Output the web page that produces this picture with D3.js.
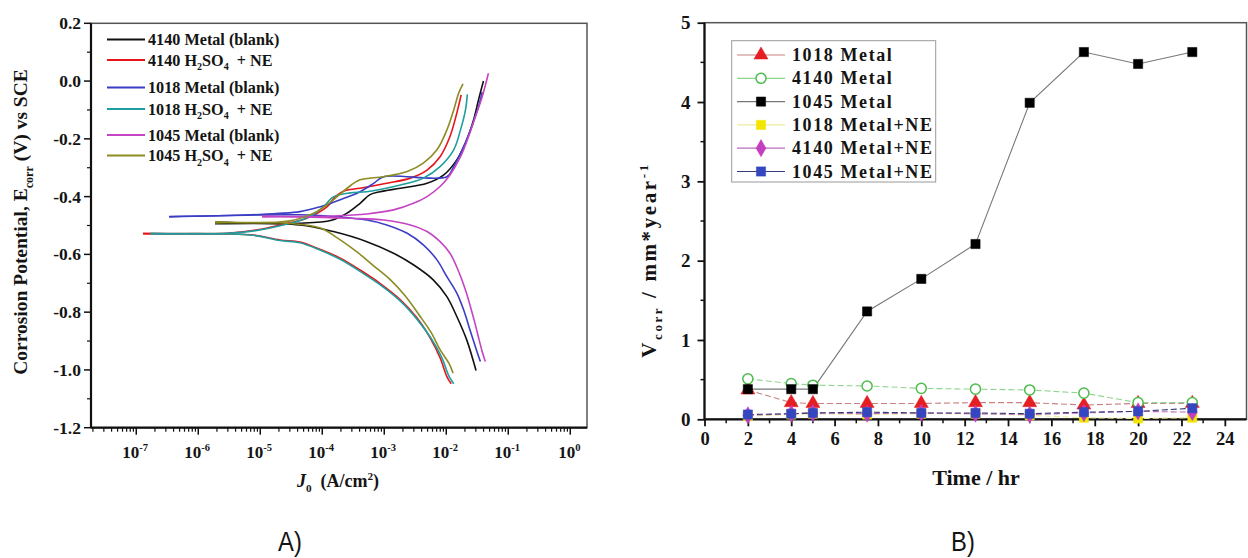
<!DOCTYPE html>
<html lang="en">
<head>
<meta charset="utf-8">
<title>Polarization curves and corrosion rate</title>
<script src="https://cdn.jsdelivr.net/npm/d3@7"></script>
<style>
  body { margin: 0; background: #fff; }
  svg { display: block; }
  text { font-family: "Liberation Serif", "Times New Roman", serif; font-weight: bold; fill: #141414; }
  .caption { font-family: "Liberation Sans Narrow", "Liberation Sans", sans-serif; font-weight: normal; }
</style>
</head>
<body>
<script>
// ---------- A) polarization curves, points are [log10 J (A/cm2), E (V vs SCE)]
var black4140Cath = [[-5.73,-0.494],[-4.36,-0.498],[-3.82,-0.521],[-3.28,-0.556],[-2.85,-0.596],[-2.53,-0.636],[-2.21,-0.688],[-1.99,-0.746],[-1.83,-0.815],[-1.67,-0.896],[-1.52,-1.002]];
var black4140Anod = [[-5.73,-0.488],[-4.36,-0.492],[-3.85,-0.482],[-3.60,-0.457],[-3.39,-0.423],[-3.23,-0.393],[-3.07,-0.383],[-2.74,-0.371],[-2.31,-0.354],[-2.04,-0.325],[-1.83,-0.273],[-1.67,-0.204],[-1.56,-0.135],[-1.48,-0.065],[-1.40,0.0]];
var ne4140Cath = [[-6.89,-0.529],[-5.54,-0.529],[-5.11,-0.533],[-4.68,-0.550],[-4.36,-0.557],[-4.03,-0.583],[-3.71,-0.613],[-3.39,-0.654],[-3.07,-0.700],[-2.74,-0.757],[-2.47,-0.820],[-2.26,-0.889],[-2.10,-0.958],[-1.99,-1.023],[-1.92,-1.048]];
var ne4140Anod = [[-6.89,-0.527],[-5.54,-0.527],[-5.05,-0.515],[-4.68,-0.498],[-4.25,-0.475],[-3.92,-0.435],[-3.79,-0.400],[-3.63,-0.379],[-3.39,-0.371],[-2.96,-0.354],[-2.58,-0.336],[-2.31,-0.308],[-2.10,-0.262],[-1.94,-0.192],[-1.83,-0.111],[-1.76,-0.048]];
var blank1018Cath = [[-6.47,-0.470],[-4.36,-0.463],[-3.82,-0.469],[-3.28,-0.481],[-2.96,-0.498],[-2.63,-0.527],[-2.37,-0.567],[-2.15,-0.619],[-1.99,-0.677],[-1.83,-0.734],[-1.72,-0.792],[-1.62,-0.860],[-1.53,-0.920],[-1.45,-0.971]];
var blank1018Anod = [[-6.47,-0.469],[-5.15,-0.463],[-4.36,-0.452],[-4.03,-0.435],[-3.71,-0.411],[-3.39,-0.383],[-3.17,-0.354],[-3.01,-0.331],[-1.99,-0.331],[-1.88,-0.296],[-1.72,-0.227],[-1.59,-0.158],[-1.48,-0.089],[-1.42,-0.038]];
var ne1018Cath = [[-6.77,-0.529],[-5.54,-0.529],[-5.11,-0.534],[-4.68,-0.552],[-4.36,-0.560],[-4.03,-0.586],[-3.71,-0.617],[-3.39,-0.659],[-3.07,-0.705],[-2.74,-0.762],[-2.47,-0.825],[-2.24,-0.892],[-2.07,-0.958],[-1.96,-1.020],[-1.88,-1.048]];
var ne1018Anod = [[-6.77,-0.527],[-5.54,-0.527],[-5.05,-0.517],[-4.68,-0.501],[-4.25,-0.474],[-4.00,-0.439],[-3.82,-0.401],[-3.55,-0.387],[-3.28,-0.383],[-2.74,-0.360],[-2.37,-0.336],[-2.10,-0.296],[-1.88,-0.238],[-1.77,-0.169],[-1.69,-0.100],[-1.66,-0.046]];
var blank1045Cath = [[-4.97,-0.470],[-4.36,-0.470],[-3.55,-0.475],[-3.01,-0.481],[-2.58,-0.498],[-2.31,-0.521],[-2.10,-0.556],[-1.94,-0.596],[-1.81,-0.654],[-1.69,-0.723],[-1.61,-0.781],[-1.53,-0.844],[-1.47,-0.896],[-1.42,-0.937],[-1.37,-0.971]];
var blank1045Anod = [[-4.97,-0.467],[-4.36,-0.469],[-3.82,-0.467],[-3.28,-0.460],[-2.85,-0.446],[-2.53,-0.423],[-2.31,-0.400],[-2.10,-0.365],[-1.94,-0.325],[-1.77,-0.262],[-1.64,-0.192],[-1.53,-0.123],[-1.42,-0.054],[-1.32,0.027]];
var ne1045Cath = [[-5.73,-0.491],[-4.52,-0.493],[-4.03,-0.509],[-3.71,-0.550],[-3.42,-0.595],[-3.19,-0.636],[-2.90,-0.688],[-2.66,-0.744],[-2.44,-0.809],[-2.24,-0.872],[-2.10,-0.930],[-1.96,-0.976],[-1.89,-1.011]];
var ne1045Anod = [[-5.73,-0.487],[-4.52,-0.484],[-4.09,-0.452],[-3.82,-0.411],[-3.60,-0.371],[-3.39,-0.342],[-3.01,-0.331],[-2.63,-0.313],[-2.37,-0.284],[-2.15,-0.238],[-1.99,-0.169],[-1.88,-0.100],[-1.80,-0.042],[-1.73,-0.010]];

var curveNames = ["4140 Metal (blank)", "4140 H2SO4 + NE", "1018 Metal (blank)", "1018 H2SO4 + NE", "1045 Metal (blank)", "1045 H2SO4 + NE"];
var curveColors = ["#111111", "#e8141c", "#3b3dc4", "#1e9e9e", "#c444c4", "#8c8c22"];
var curveData = [[black4140Cath, black4140Anod], [ne4140Cath, ne4140Anod], [blank1018Cath, blank1018Anod],
                 [ne1018Cath, ne1018Anod], [blank1045Cath, blank1045Anod], [ne1045Cath, ne1045Anod]];
var eTicks = [0.2, 0.0, -0.2, -0.4, -0.6, -0.8, -1.0, -1.2];

// ---------- B) corrosion rate vs time
var times = [2, 4, 5, 7.5, 10, 12.5, 15, 17.5, 20, 22.5];
var v1018 = [0.37, 0.21, 0.20, 0.20, 0.20, 0.21, 0.21, 0.18, 0.20, 0.20];
var v4140 = [0.51, 0.45, 0.43, 0.42, 0.39, 0.38, 0.37, 0.33, 0.21, 0.21];
var v1045 = [0.38, 0.38, 0.38, 1.36, 1.77, 2.21, 3.99, 4.63, 4.48, 4.63];
var v1018NE = [0.04, 0.06, 0.07, 0.06, 0.07, 0.07, 0.05, 0.02, 0.01, 0.02];
var v4140NE = [0.05, 0.07, 0.08, 0.07, 0.08, 0.07, 0.06, 0.08, 0.10, 0.09];
var v1045NE = [0.06, 0.07, 0.08, 0.09, 0.08, 0.08, 0.07, 0.09, 0.10, 0.14];
var rateNames = ["1018 Metal", "4140 Metal", "1045 Metal", "1018 Metal+NE", "4140 Metal+NE", "1045 Metal+NE"];

var w = 1248, h = 558;
var svg = d3.select("body").append("svg").attr("width", w).attr("height", h);

// writes text made of parts: plain strings or {t, sub|sup|it}
function rich(sel, parts, size) {
	var shift = 0;
	parts.forEach(function(p) {
		if (typeof p === "string") p = {t: p};
		var target = p.sub ? size * 0.3 : p.sup ? -size * 0.4 : 0;
		var ts = sel.append("tspan").text(p.t).attr("dy", target - shift);
		if (p.sub || p.sup) ts.attr("font-size", size * 0.62);
		if (p.it) ts.attr("font-style", "italic");
		shift = target;
	});
	return sel;
}

// ================= A =================
var ax = {l: 91, r: 587, t: 23.3, b: 427.7};
var xA = d3.scaleLog().domain([Math.pow(10, -7.73), Math.pow(10, 0.27)]).range([ax.l, ax.r]);
var yA = d3.scaleLinear().domain([-1.2, 0.2]).range([ax.b, ax.t]);
var gA = svg.append("g");

// frame
gA.append("rect").attr("x", ax.l).attr("y", ax.t).attr("width", ax.r - ax.l).attr("height", ax.b - ax.t)
	.attr("fill", "none").attr("stroke", "#555").attr("stroke-width", 1.5);

// x axis (log)
var decades = d3.range(-7, 1);
var minorJ = [];
d3.range(-8, 1).forEach(function(e) {
	for (var k = 2; k <= 9; k++) {
		var v = k * Math.pow(10, e);
		if (v > xA.domain()[0] && v < xA.domain()[1]) minorJ.push(v);
	}
});
var xAxisA = gA.append("g").attr("transform", "translate(0," + ax.b + ")");
xAxisA.append("path").attr("d", "M" + ax.l + ",0H" + ax.r).attr("stroke", "#111").attr("stroke-width", 2.2);
xAxisA.selectAll(".mn").data(minorJ).enter().append("line")
	.attr("x1", function(d) { return xA(d); }).attr("x2", function(d) { return xA(d); })
	.attr("y1", 0).attr("y2", 4).attr("stroke", "#111").attr("stroke-width", 1.2);
xAxisA.selectAll(".mj").data(decades).enter().append("line")
	.attr("x1", function(d) { return xA(Math.pow(10, d)); }).attr("x2", function(d) { return xA(Math.pow(10, d)); })
	.attr("y1", 0).attr("y2", 7).attr("stroke", "#111").attr("stroke-width", 1.5);
xAxisA.selectAll(".lbl").data(decades).enter().append("text")
	.attr("x", function(d) { return xA(Math.pow(10, d)) - 1; }).attr("y", 30)
	.attr("text-anchor", "middle").attr("font-size", 17)
	.each(function(d) { rich(d3.select(this), ["10", {t: String(d), sup: true}], 17); });

// y axis
var yAxisA = gA.append("g").attr("transform", "translate(" + ax.l + ",0)");
yAxisA.append("path").attr("d", "M0," + ax.t + "V" + ax.b).attr("stroke", "#111").attr("stroke-width", 2.2);
var eMinor = d3.range(-11, 2, 2).map(function(i) { return i / 10; });
yAxisA.selectAll(".mn").data(eMinor).enter().append("line")
	.attr("y1", function(d) { return yA(d); }).attr("y2", function(d) { return yA(d); })
	.attr("x1", 0).attr("x2", -4).attr("stroke", "#111").attr("stroke-width", 1.2);
yAxisA.selectAll(".mj").data(eTicks).enter().append("line")
	.attr("y1", function(d) { return yA(d); }).attr("y2", function(d) { return yA(d); })
	.attr("x1", 0).attr("x2", -7).attr("stroke", "#111").attr("stroke-width", 1.5);
yAxisA.selectAll(".lbl").data(eTicks).enter().append("text")
	.attr("x", -10).attr("y", function(d) { return yA(d) + 6; })
	.attr("text-anchor", "end").attr("font-size", 17.5)
	.text(function(d) { return d3.format(".1f")(d).replace("\u2212", "-"); });

// curves
var lineA = d3.line()
	.x(function(d) { return xA(Math.pow(10, d[0])); })
	.y(function(d) { return yA(d[1]); })
	.curve(d3.curveCatmullRom.alpha(0.5));
curveData.forEach(function(branches, i) {
	branches.forEach(function(b) {
		gA.append("path").attr("d", lineA(b)).attr("fill", "none")
			.attr("stroke", curveColors[i]).attr("stroke-width", 1.6);
	});
});

// legend A
var legRowsA = [39.5, 60, 87.5, 109, 135, 155.5];
curveNames.forEach(function(name, i) {
	var y = legRowsA[i];
	gA.append("line").attr("x1", 107).attr("x2", 145).attr("y1", y).attr("y2", y)
		.attr("stroke", curveColors[i]).attr("stroke-width", 2.2);
	var t = gA.append("text").attr("x", 148).attr("y", y + 5.5).attr("font-size", 16.2);
	if (name.indexOf("H2SO4") >= 0) {
		rich(t, [name.slice(0, 6), {t: "2", sub: true}, "SO", {t: "4", sub: true}, "\u00a0 + NE"], 16.2);
	} else {
		t.text(name);
	}
});

// axis titles A
var yTitleA = gA.append("text").attr("transform", "translate(27,222) rotate(-90)")
	.attr("text-anchor", "middle").attr("font-size", 19.5);
rich(yTitleA, ["Corrosion Potential, E", {t: "corr", sub: true}, " (V) vs SCE"], 19.5);
var xTitleA = gA.append("text").attr("x", 338).attr("y", 487).attr("text-anchor", "middle").attr("font-size", 18);
rich(xTitleA, [{t: "J", it: true}, {t: "0", sub: true}, "\u00a0 (A/cm", {t: "2", sup: true}, ")"], 18);

// ================= B =================
var bx = {l: 704.5, r: 1246.5, t: 22.7, b: 419.3};
var xB = d3.scaleLinear().domain([0, 25]).range([bx.l, bx.r]);
var yB = d3.scaleLinear().domain([0, 5]).range([bx.b, bx.t]);
var gB = svg.append("g");

gB.append("rect").attr("x", bx.l).attr("y", bx.t).attr("width", bx.r - bx.l).attr("height", bx.b - bx.t)
	.attr("fill", "none").attr("stroke", "#555").attr("stroke-width", 1.5);

var serif = '"Liberation Serif", "Times New Roman", serif';
var xAxisB = d3.axisBottom(xB).tickValues(d3.range(0, 25, 2)).tickFormat(d3.format("d")).tickSize(7).tickPadding(6);
var gxB = gB.append("g").attr("transform", "translate(0," + bx.b + ")").call(xAxisB)
	.attr("font-family", serif).attr("font-size", 18.5);
gxB.selectAll(".tick line").attr("stroke", "#111").attr("stroke-width", 1.8);
gxB.selectAll(".tick text").attr("fill", "#141414");
gxB.select(".domain").attr("d", "M" + bx.l + ",0H" + bx.r).attr("stroke", "#111").attr("stroke-width", 2.2);
gxB.selectAll(".mn").data(d3.range(1, 25, 2)).enter().append("line")
	.attr("x1", function(d) { return xB(d); }).attr("x2", function(d) { return xB(d); })
	.attr("y1", 0).attr("y2", 4).attr("stroke", "#111").attr("stroke-width", 1.5);

var yAxisB = d3.axisLeft(yB).tickValues(d3.range(0, 6)).tickFormat(d3.format("d")).tickSize(7).tickPadding(7);
var gyB = gB.append("g").attr("transform", "translate(" + bx.l + ",0)").call(yAxisB)
	.attr("font-family", serif).attr("font-size", 19);
gyB.selectAll(".tick line").attr("stroke", "#111").attr("stroke-width", 1.8);
gyB.selectAll(".tick text").attr("fill", "#141414");
gyB.select(".domain").attr("d", "M0," + bx.t + "V" + bx.b).attr("stroke", "#111").attr("stroke-width", 2.2);
gyB.selectAll(".mn").data([0.5, 1.5, 2.5, 3.5, 4.5]).enter().append("line")
	.attr("y1", function(d) { return yB(d); }).attr("y2", function(d) { return yB(d); })
	.attr("x1", 0).attr("x2", -4).attr("stroke", "#111").attr("stroke-width", 1.5);

var series = [
	{vals: v1018, line: "#c98080", fill: "#e41e22", stroke: "#e41e22", shape: "tri", dash: "6,3"},
	{vals: v4140, line: "#8fd48f", fill: "#fff", stroke: "#4cbc4c", shape: "circ", dash: "6,3"},
	{vals: v1045, line: "#777", fill: "#000", stroke: "#000", shape: "sq", dash: null},
	{vals: v1018NE, line: "#ecec9a", fill: "#f2e600", stroke: "#f2e600", shape: "sq", dash: "6,3"},
	{vals: v4140NE, line: "#b86cb8", fill: "#c23fc2", stroke: "#c23fc2", shape: "dia", dash: "6,3"},
	{vals: v1045NE, line: "#3a3a78", fill: "#3447c0", stroke: "#3447c0", shape: "sq", dash: "6,3"}
];
var symbols = {tri: d3.symbolTriangle, circ: d3.symbolCircle, sq: d3.symbolSquare, dia: d3.symbolDiamond};
var sizes = {tri: 85, circ: 80, sq: 85, dia: 85};

var lineB = d3.line().x(function(d) { return xB(d[0]); }).y(function(d) { return yB(d[1]); });
series.forEach(function(s) {
	var pts = times.map(function(t, i) { return [t, s.vals[i]]; });
	gB.append("path").attr("d", lineB(pts)).attr("fill", "none").attr("stroke", s.line)
		.attr("stroke-width", 1.1).attr("stroke-dasharray", s.dash);
});
series.forEach(function(s) {
	var pts = times.map(function(t, i) { return [t, s.vals[i]]; });
	gB.selectAll(null).data(pts).enter().append("path")
		.attr("transform", function(d) { return "translate(" + xB(d[0]) + "," + yB(d[1]) + ")"; })
		.attr("d", d3.symbol(symbols[s.shape], sizes[s.shape]))
		.attr("fill", s.fill).attr("stroke", s.stroke).attr("stroke-width", s.shape === "circ" ? 1.5 : 0.5);
});

// legend B
gB.append("rect").attr("x", 731.7).attr("y", 40.7).attr("width", 204).attr("height", 141.3)
	.attr("fill", "#fff").attr("stroke", "#999").attr("stroke-width", 1);
rateNames.forEach(function(name, i) {
	var y = 55 + i * 23.3, s = series[i];
	gB.append("line").attr("x1", 737).attr("x2", 785).attr("y1", y).attr("y2", y)
		.attr("stroke", s.line).attr("stroke-width", 1.2);
	gB.append("path").attr("transform", "translate(761," + y + ")")
		.attr("d", d3.symbol(symbols[s.shape], sizes[s.shape]))
		.attr("fill", s.fill).attr("stroke", s.stroke).attr("stroke-width", s.shape === "circ" ? 1.5 : 0.5);
	gB.append("text").attr("x", 792).attr("y", y + 6).attr("font-size", 18).attr("letter-spacing", 1.6).text(name);
});

// axis titles B
var yTitleB = gB.append("text").attr("transform", "translate(656,260) rotate(-90)")
	.attr("text-anchor", "middle").attr("font-size", 21).attr("letter-spacing", 2.6);
rich(yTitleB, ["V", {t: "corr", sub: true}, " / mm*year", {t: "-1", sup: true}], 21);
gB.append("text").attr("x", 976).attr("y", 485).attr("text-anchor", "middle").attr("font-size", 22).text("Time / hr");

// captions
svg.append("text").attr("class", "caption").attr("transform", "translate(290,551) scale(0.85,1)")
	.attr("text-anchor", "middle").attr("font-size", 28).text("A)");
svg.append("text").attr("class", "caption").attr("transform", "translate(963,551) scale(0.85,1)")
	.attr("text-anchor", "middle").attr("font-size", 28).text("B)");
</script>
</body>
</html>
